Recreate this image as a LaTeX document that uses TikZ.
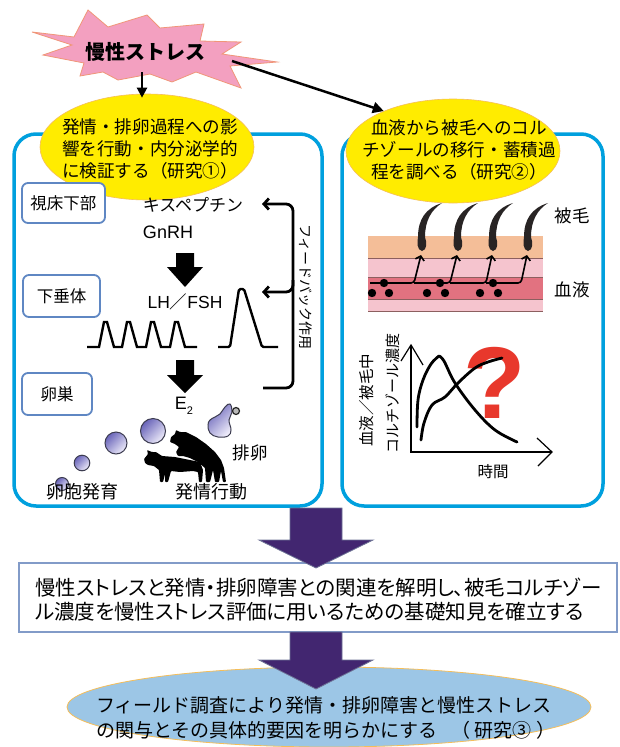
\documentclass[tikz,border=0pt]{standalone}
\usepackage{fontspec}
\setmainfont{Noto Sans CJK JP}
\newfontfamily\jpprop{Noto Sans CJK JP}[RawFeature=+palt]
\newfontfamily\latin{Liberation Sans}
\usetikzlibrary{arrows.meta,shapes.geometric}

\definecolor{panelblue}{RGB}{0,160,222}
\definecolor{tagblue}{RGB}{95,135,195}
\definecolor{starpink}{RGB}{243,160,192}
\definecolor{starline}{RGB}{240,150,120}
\definecolor{ellyellow}{RGB}{255,236,0}
\definecolor{ellline}{RGB}{245,190,90}
\definecolor{arrowpurple}{RGB}{66,38,112}
\definecolor{arrowedge}{RGB}{110,115,150}
\definecolor{boxline}{RGB}{130,155,200}
\definecolor{skyfill}{RGB}{156,198,230}
\definecolor{qred}{RGB}{232,56,44}
\definecolor{skinpeach}{RGB}{244,190,152}
\definecolor{skinpink}{RGB}{245,196,206}
\definecolor{skinrose}{RGB}{226,114,128}
\definecolor{skinedge}{RGB}{140,95,95}
\definecolor{follA}{RGB}{105,100,185}
\definecolor{follB}{RGB}{238,236,250}
\definecolor{follline}{RGB}{60,60,80}
\definecolor{hair}{RGB}{40,36,36}

\newcommand\setfs[2]{\fontsize{#1}{#2}\selectfont}

\begin{document}
\begin{tikzpicture}[x=1pt,y=-1pt,
  panel/.style={draw=panelblue, line width=3.5pt, rounded corners=22pt, inner sep=0pt},
  tag/.style={draw=tagblue, line width=1.8pt, rounded corners=6pt, fill=white,
              inner sep=0pt, font=\setfs{16.5}{16.5}},
  oval/.style={ellipse, inner sep=0pt},
  lbl/.style={inner sep=0pt},
  follicle/.style={draw=follline, line width=1pt, left color=follA,
                   right color=follB, shading angle=45},
  thinarrow/.style={line width=1.6pt, rounded corners=3pt,
                    -{Straight Barb[length=4pt,width=9pt]}},
  fbarrow/.style={line width=2.8pt, rounded corners=7pt,
                  -{Straight Barb[length=5pt,width=11pt]}},
  bigarrow/.style={fill=arrowpurple, draw=arrowedge, line width=0.8pt}
]
\useasboundingbox (0,0) rectangle (620,747);
\fill[white] (0,0) rectangle (620,747);

% ---------- the two study panels ----------
\node[panel, minimum width=308pt, minimum height=372pt] (lpanel) at (168,320) {};
\node[panel, minimum width=261pt, minimum height=372pt] (rpanel) at (472.5,320) {};

% ---------- chronic stress burst ----------
\filldraw[fill=starpink, draw=starline, line width=0.8pt]
  (32,32) -- (74,37) -- (88,10) -- (108,27) -- (147,15) -- (160,28) -- (204,24)
  -- (200,41) -- (241,42) -- (222,54) -- (277,62) -- (230,66) -- (241,88)
  -- (196,72) -- (172,82) -- (150,74) -- (118,80) -- (103,72) -- (80,76)
  -- (84,63) -- (43,55) -- (72,45) -- cycle;
\node[lbl, font=\setfs{20}{20}\bfseries] (stress) at (145,52) {慢性ストレス};
\coordinate (starS) at (142,72);
\coordinate (starE) at (232,61);

% ---------- study ovals ----------
\node[oval, fill=ellyellow, draw=ellline, line width=0.6pt,
      minimum width=214pt, minimum height=106pt] (studyA) at (147,147) {};
\node[oval, fill=ellyellow, draw=ellline, line width=0.6pt,
      minimum width=214pt, minimum height=104pt] (studyB) at (453,151) {};
\node[lbl, align=center, font=\setfs{17.6}{22}] (studyAtext) at (150,149)
  {発情・排卵過程への影\\響を行動・内分泌学的\\に検証する（研究①）};
\node[lbl, align=center, font=\setfs{17.6}{22}] (studyBtext) at (459,150)
  {血液から被毛へのコル\\チゾールの移行・蓄積過\\程を調べる（研究②）};

\draw[line width=2.2pt, -{Triangle[length=10pt,width=10pt]}, shorten >=-4pt]
  (starS) -- (starS |- studyA.north);
\draw[line width=2.5pt, -{Triangle[length=11pt,width=11pt]}] (starE) -- (studyB.150);

% ---------- left panel: endocrine axis ----------
\node[tag, minimum width=83pt, minimum height=40pt] (hypo) at (63.5,203) {視床下部};
\node[tag, minimum width=77pt, minimum height=42pt] (pit) at (61.5,296) {下垂体};
\node[tag, minimum width=70pt, minimum height=42pt] (ovary) at (57,394) {卵巣};

\node[lbl, font=\setfs{17}{17}] (kiss) at (193,205) {キスペプチン};
\node[lbl, font=\latin\setfs{18}{18}] (gnrh) at (168,232) {GnRH};
\node[lbl, font=\setfs{17.5}{17.5}] (lhfsh) at (185,302) {{\latin LH}／{\latin FSH}};
\node[lbl, font=\latin\setfs{18}{18}] (e2) at (184,406) {E\raisebox{-0.3em}{\setfs{11}{11}2}};

% block arrows down the axis
\fill (176,253) -- (194,253) -- (194,267) -- (203,267) -- (185,287)
  -- (167,267) -- (176,267) -- cycle;
\fill (176,360) -- (194,360) -- (194,375) -- (203,375) -- (185,393)
  -- (167,375) -- (176,375) -- cycle;

% pulsatile and surge secretion
\draw[line width=2.4pt, line join=miter]
  (87,347) -- (99,347) -- (104,322) -- (107,322) -- (114,347) -- (122,347)
  -- (127,322) -- (130,322) -- (137,347) -- (146,347) -- (151,322) -- (154,322)
  -- (161,347) -- (170,347) -- (175,322) -- (178,322) -- (185,347) -- (197,347);
\draw[line width=2.4pt, rounded corners=1.5pt]
  (218,347) -- (230,347) -- (239,289) -- (244,289) -- (262,347) -- (278,347);

% feedback loop
\coordinate (fbTop) at (262,204);
\coordinate (fbMid) at (262,292);
\coordinate (fbBot) at (263,388);
\draw[fbarrow] (fbBot) -| (293,204) -- (fbTop);
\draw[fbarrow] (293,280) |- (fbMid);
\node[lbl, rotate=-90, font=\setfs{14}{14}] (fbtext) at (306,287) {フィードバック作用};

% follicles
\foreach \fx/\fy/\fr in {62/484/6.5, 82/463/7.8, 116/443/11, 153/431/12.5}
  \draw[follicle] (\fx,\fy) circle[radius=\fr];
\draw[follicle] plot[smooth cycle, tension=0.7] coordinates
  {(210,420) (215,417) (220,414) (225,407) (230,404) (232,412) (229,420)
   (231,430) (228,436) (218,437) (210,433) (208,425)};
\filldraw[fill=gray!55, draw=black!85, line width=1.2pt] (236,411) circle[radius=3.5];

% mounting cows: the standing one, then the one on its back
\fill[black, rounded corners=0.8pt]
  (145,463) -- (144,459) -- (148,454) -- (147,450) -- (152,452) -- (156,452)
  -- (162,456) -- (175,457) -- (190,460) -- (200,462) -- (203,470) -- (202,482)
  -- (199,482) -- (198,472) -- (193,471) -- (180,472) -- (171,471) -- (168,482)
  -- (165,482) -- (165,474) -- (163,482) -- (160,482) -- (159,470) -- (154,466)
  -- (148,465) -- cycle;
\fill[black, rounded corners=0.8pt]
  (170,442) -- (171,437) -- (175,434) -- (176,430) -- (180,432) -- (186,432)
  -- (196,437) -- (206,444) -- (215,452) -- (221,460) -- (224,468) -- (226,482)
  -- (223,482) -- (221,471) -- (219,482) -- (215,482) -- (213,470) -- (210,482)
  -- (206,482) -- (205,468) -- (198,462) -- (190,458) -- (183,456) -- (178,456)
  -- (176,452) -- (179,447) -- (175,444) -- cycle;

\node[lbl, font=\setfs{17.5}{17.5}] (ovul) at (250,453) {排卵};
\node[lbl, font=\setfs{18}{18}] (folgrow) at (82,492) {卵胞発育};
\node[lbl, font=\setfs{18}{18}] (estrus) at (211,492) {発情行動};

% ---------- right panel: skin section ----------
\fill[skinpeach] (368,236) rectangle (543,258);
\fill[skinpink] (368,258) rectangle (543,277);
\fill[skinrose] (368,277) rectangle (543,299);
\fill[skinpink] (368,299) rectangle (543,311);
\foreach \ly in {258,277,299,311}
  \draw[skinedge, line width=0.7pt] (368,\ly) -- (543,\ly);

\foreach \h in {422,458,493,528}
  \fill[hair] (\h,251) .. controls (\h-5,250) and (\h-5,243) .. (\h-4,237)
    .. controls (\h-4,219) and (\h+4,208) .. (\h+20,203)
    .. controls (\h+9,210) and (\h+3,221) .. (\h+3,237)
    .. controls (\h+5,243) and (\h+5,250) .. (\h,251);

\draw[thinarrow] (370,283) -- (414,283) -- (421,255);
\draw[thinarrow] (414,283) -- (450,283) -- (457,255);
\draw[thinarrow] (450,283) -- (486,283) -- (492,255);
\draw[thinarrow] (486,283) -- (521,283) -- (527,255);

\foreach \dx/\dy in {384/283, 372/293, 389/293, 440/283, 427/293, 445/293,
                     493/283, 480/293, 498/293}
  \fill (\dx,\dy) circle[radius=4.2];

\node[lbl, font=\setfs{17.5}{17.5}] (hairlbl) at (572,216) {被毛};
\node[lbl, font=\setfs{17.5}{17.5}] (bloodlbl) at (572,290) {血液};

% ---------- right panel: cortisol curves ----------
\node[lbl, text=qred, font=\latin\bfseries\setfs{102}{102}] (qmark) at (495,383) {?};

\coordinate (orig) at (411,452);
\draw[line width=1.2pt] (411,345) -- (orig) -- (552,452);
\draw[line width=1.2pt] (401,361) -- (411,345) -- (423,365);
\draw[line width=1.2pt] (537,438) -- (552,452) -- (538,466);

\draw[line width=2.8pt, line cap=round] plot[smooth, tension=0.6] coordinates
  {(417,427) (418,400) (423,380) (431,364) (439,356)};
\draw[line width=2.8pt, line cap=round] plot[smooth, tension=0.6] coordinates
  {(439,356) (444,361) (455,383) (475,410) (495,430) (517,442)};
\draw[line width=2.8pt, line cap=round] plot[smooth, tension=0.6] coordinates
  {(421,440) (424,423) (432,405) (445,397) (458,383) (475,368) (488,362) (502,358)};

\node[lbl, rotate=90, font=\setfs{15.5}{15.5}] (ylabA) at (367,400) {血液／被毛中};
\node[lbl, rotate=90, font=\setfs{15}{15}] (ylabB) at (393,393) {コルチゾール濃度};
\node[lbl, font=\setfs{15.5}{15.5}] (timelbl) at (493,472) {時間};

% ---------- conclusion ----------
\node[draw=boxline, line width=1.5pt, fill=white, inner sep=0pt,
      minimum width=598pt, minimum height=69pt] (concl) at (318,597.5) {};
\node[lbl, anchor=west, align=left, font=\jpprop\setfs{20.5}{24}] (concltext) at (35,600)
  {慢性ストレスと発情・排卵障害との関連を解明し、被毛コルチゾー\\ル濃度を慢性ストレス評価に用いるための基礎知見を確立する};
\filldraw[bigarrow] (290,508) -- (342,508) -- (342,540) -- (373,540) -- (316,568)
  -- (259,540) -- (290,540) -- cycle;

% ---------- field study ----------
\node[oval, fill=skyfill, draw=ellline, line width=0.8pt,
      minimum width=524pt, minimum height=80pt] (field) at (329,707) {};
\node[lbl, anchor=west, align=left, font=\setfs{19}{25}] (fieldtext) at (96,718)
  {フィールド調査により発情・排卵障害と慢性ストレス\\の関与とその具体的要因を明らかにする\hspace{0.7em}（\hspace{0.25em}研究③\hspace{0.25em}）};
\filldraw[bigarrow] (290,632) -- (342,632) -- (342,660) -- (373,660) -- (316,689)
  -- (259,660) -- (290,660) -- cycle;
\end{tikzpicture}
\end{document}
